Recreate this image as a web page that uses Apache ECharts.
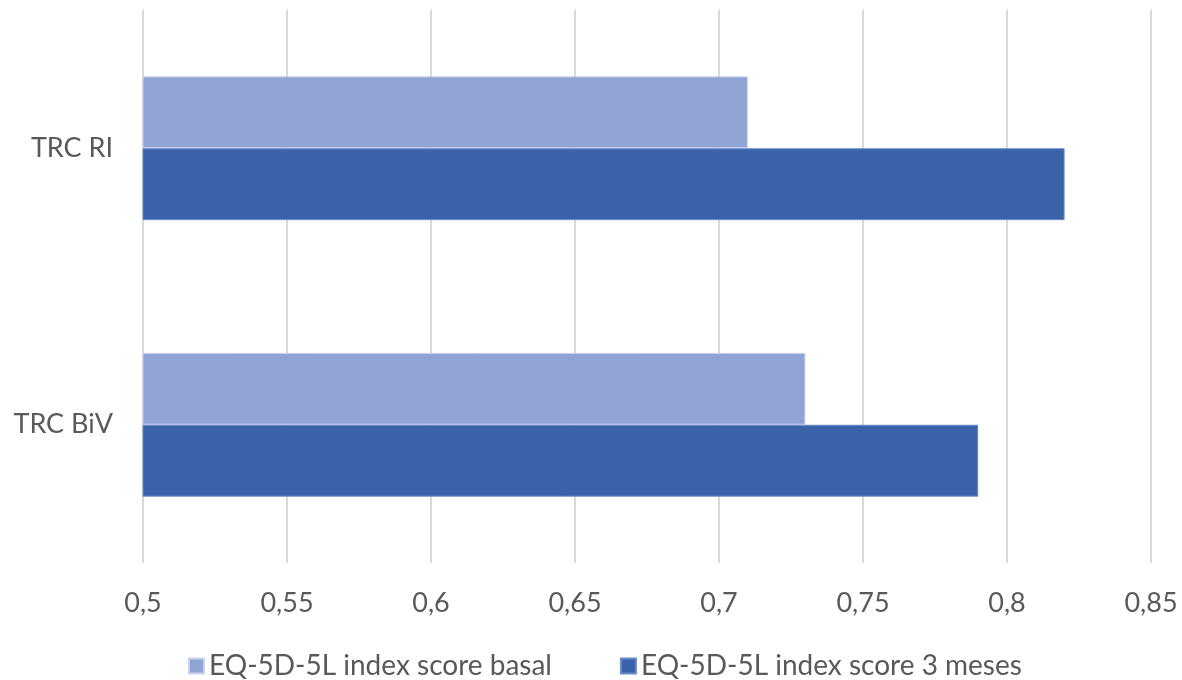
<!DOCTYPE html>
<html>
<head>
<meta charset="utf-8">
<script src="https://cdn.jsdelivr.net/npm/echarts@6/dist/echarts.min.js"></script>
<style>
html,body{margin:0;padding:0;background:#fff;}
#chart{width:1182px;height:680px;}
</style>
</head>
<body>
<div id="chart"></div>
<script>
const categories = ['TRC BiV', 'TRC RI'];
const seriesNames = ['EQ-5D-5L index score basal', 'EQ-5D-5L index score 3 meses'];
const basal = [0.73, 0.71];
const meses3 = [0.79, 0.82];
const tickLabels = ['0,5', '0,55', '0,6', '0,65', '0,7', '0,75', '0,8', '0,85'];

const chart = echarts.init(document.getElementById('chart'), null, {renderer: 'canvas'});
const font = 'Lato, "Open Sans", sans-serif';
chart.setOption({
  animation: false,
  textStyle: {fontFamily: font},
  grid: {left: 143, right: 31, top: 10, bottom: 117, containLabel: false},
  legend: {
    top: 647,
    left: 183,
    itemWidth: 15,
    itemHeight: 15,
    itemGap: 68,
    icon: 'rect',
    textStyle: {fontSize: 28, color: '#595959', fontFamily: font},
    data: seriesNames
  },
  xAxis: {
    type: 'value',
    min: 0.5,
    max: 0.85,
    interval: 0.05,
    axisLine: {show: false},
    axisTick: {show: false},
    splitLine: {show: true, lineStyle: {color: '#D9D9D9', width: 2}},
    axisLabel: {
      fontSize: 27, color: '#595959', margin: 27,
      formatter: function (v) {
        const i = Math.round((v - 0.5) / 0.05);
        return tickLabels[i] !== undefined ? tickLabels[i] : '';
      }
    }
  },
  yAxis: {
    type: 'category',
    data: categories,
    axisLine: {show: false},
    axisTick: {show: false},
    splitLine: {show: false},
    axisLabel: {fontSize: 27, color: '#595959', margin: 30}
  },
  series: [
    {
      name: seriesNames[0], type: 'bar', data: basal,
      barGap: '0%', barCategoryGap: '48%',
      itemStyle: {color: '#8FA4D5', borderColor: '#C9D3EE', borderWidth: 1}
    },
    {
      name: seriesNames[1], type: 'bar', data: meses3,
      barGap: '0%', barCategoryGap: '48%',
      itemStyle: {color: '#3A63AA', borderColor: '#6A8BC8', borderWidth: 1}
    }
  ]
});
</script>
</body>
</html>
